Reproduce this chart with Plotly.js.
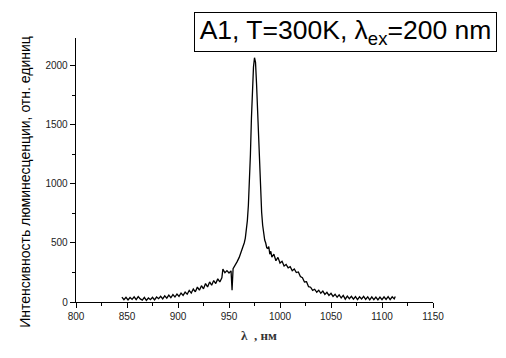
<!DOCTYPE html>
<html>
<head>
<meta charset="utf-8">
<script src="https://cdn.plot.ly/plotly-3.0.1.min.js"></script>
<style>html,body{margin:0;padding:0;background:#fff;}#chart{width:506px;height:358px;}</style>
</head>
<body>
<div id="chart"></div>
<script>
// Wavelength, nm
var wavelength = [
  845,847,849,851,853,855,857,859,861,863,865,867,869,871,873,875,877,879,881,883,
  885,887,889,891,893,895,897,899,901,903,905,907,909,911,913,915,917,919,921,923,
  925,927,929,931,933,935,937,939,941,943,944,946,948,950,952,953,954,956,958,960,
  961,962,963,964,965,966,967,968,969,970,971,972,973,974,975,976,977,978,979,980,
  981,982,983,984,985,986,987,988,989,990,991,992,994,996,998,1000,1002,1004,1006,1008,
  1010,1012,1014,1016,1018,1020,1022,1024,1026,1028,1030,1032,1034,1036,1038,1040,1042,1044,1046,1048,
  1050,1052,1054,1056,1058,1060,1062,1064,1066,1068,1070,1072,1074,1076,1078,1080,1082,1084,1086,1088,
  1090,1092,1094,1096,1098,1100,1102,1104,1106,1108,1110,1112,1113
];
// Luminescence intensity, arb. units
var intensity = [
  42,20,40,18,38,22,44,20,46,26,16,40,14,34,20,40,18,42,28,48,
  26,52,32,58,36,62,42,68,48,76,56,84,66,98,76,110,86,126,100,138,
  112,156,128,170,142,182,156,196,170,205,278,248,266,246,264,100,282,308,342,378,
  402,422,445,462,502,542,602,690,820,1000,1250,1560,1820,1990,2070,2030,1850,1600,1380,1150,
  900,760,650,565,525,500,460,455,470,405,430,380,405,350,378,330,345,305,318,290,
  300,265,280,250,255,215,205,170,172,130,125,98,108,82,100,74,92,64,82,56,
  74,48,66,40,60,34,56,24,50,28,48,24,46,20,44,26,48,22,44,18,
  44,20,42,18,42,20,44,22,46,20,44,26,46
];
var xTickVals = [800,850,900,950,1000,1050,1100,1150];
var yTickVals = [0,500,1000,1500,2000];
var titleText = "A1, T=300K, λ<sub>ex</sub>=200 nm";
var yTitleText = "Интенсивность люминесценции, отн. единиц";
var xTitleText = "<b>λ  , нм</b>";

var trace = {
  x: wavelength, y: intensity, type: 'scatter', mode: 'lines',
  line: {color: '#000', width: 1.3}, hoverinfo: 'skip'
};
var tickFont = {family: 'Arial, Liberation Sans, sans-serif', size: 10, color: '#222'};
var layout = {
  width: 506, height: 358,
  margin: {l: 76, r: 73, t: 38, b: 56, pad: 0},
  paper_bgcolor: '#fff', plot_bgcolor: '#fff',
  showlegend: false,
  xaxis: {
    range: [800, 1150], tickmode: 'array', tickvals: xTickVals,
    ticks: 'outside', ticklen: 5, tickwidth: 1, tickcolor: '#000',
    minor: {dtick: 25, tick0: 800, ticks: 'outside', ticklen: 3, tickcolor: '#000', showgrid: false},
    showline: true, linecolor: '#000', linewidth: 1.3, mirror: false,
    showgrid: false, zeroline: false, tickfont: tickFont
  },
  yaxis: {
    range: [0, 2237], tickmode: 'array', tickvals: yTickVals,
    ticks: 'outside', ticklen: 5, tickwidth: 1, tickcolor: '#000',
    minor: {dtick: 250, tick0: 0, ticks: 'outside', ticklen: 3, tickcolor: '#000', showgrid: false},
    showline: true, linecolor: '#000', linewidth: 1.3, mirror: false,
    showgrid: false, zeroline: false, tickfont: tickFont
  },
  annotations: [
    {
      text: titleText, xref: 'paper', yref: 'paper',
      x: 0.3308, y: 1.098, xanchor: 'left', yanchor: 'top',
      showarrow: false, bordercolor: '#000', borderwidth: 1, borderpad: 0,
      width: 301, height: 38, bgcolor: '#fff',
      font: {family: 'Arial, Liberation Sans, sans-serif', size: 26.5, color: '#000'}
    },
    {
      text: yTitleText, xref: 'paper', yref: 'paper',
      x: -0.145, y: 0.456, xanchor: 'center', yanchor: 'middle',
      textangle: -90, showarrow: false,
      font: {family: 'Arial, Liberation Sans, sans-serif', size: 14, color: '#000'}
    },
    {
      text: xTitleText, xref: 'paper', yref: 'paper',
      x: 0.513, y: -0.125, xanchor: 'center', yanchor: 'middle',
      showarrow: false,
      font: {family: 'Liberation Serif, DejaVu Serif, serif', size: 13, color: '#333'}
    }
  ]
};
Plotly.newPlot('chart', [trace], layout, {staticPlot: true, displayModeBar: false});
</script>
</body>
</html>
